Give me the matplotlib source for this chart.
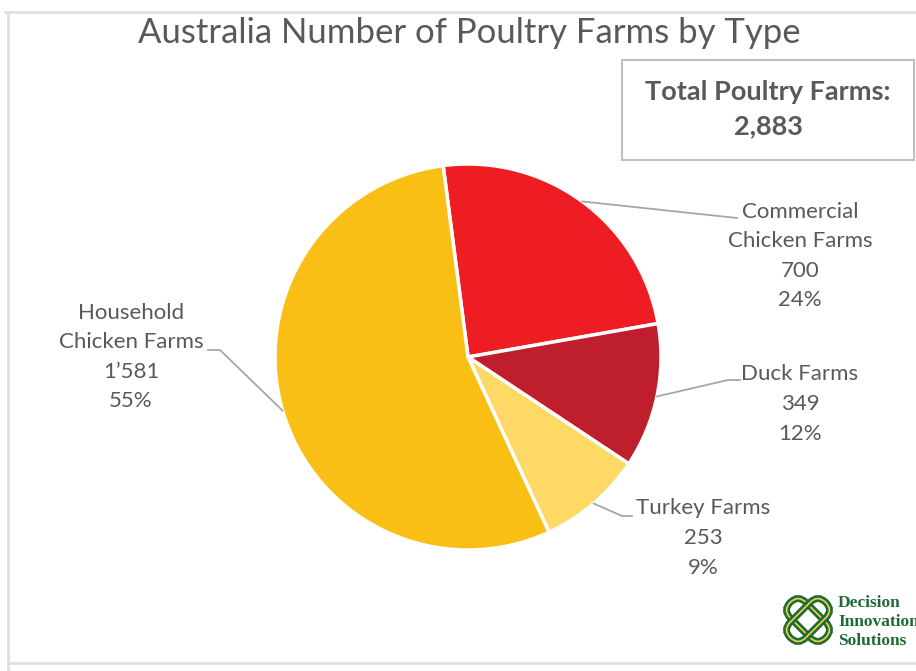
import numpy as np
import matplotlib
matplotlib.use("Agg")
import matplotlib.pyplot as plt
from matplotlib.patches import Rectangle, FancyBboxPatch
import matplotlib.transforms as mtransforms

# data
categories = ["Commercial\nChicken Farms", "Duck Farms", "Turkey Farms", "Household\nChicken Farms"]
farms = [700, 349, 253, 1581]
colours = ["#EE1D23", "#BF1E2D", "#FFD966", "#FABF14"]

# label layout (pixel coords of the figure, y downwards)
label_pos = [(800, 256), (800, 404), (703, 538), (131, 357)]
leader_pts = [
    [(737, 218)],
    [(728, 380), (740, 380)],
    [(622, 516), (632, 516)],
    [(220, 350), (208, 350)],
]

total = sum(farms)
txt_col = "#595959"

plt.rcParams['font.family'] = ['Lato', 'DejaVu Sans']

fig = plt.figure(figsize=(9.16, 6.71), dpi=100)
ax = fig.add_axes([0, 0, 1, 1])

# frame of the chart area
ax.plot([5, 916], [12, 12], color="#E0E0E0", lw=2)
ax.plot([8, 8], [12, 671], color="#E0E0E0", lw=2)
ax.plot([8, 916], [663, 663], color="#E0E0E0", lw=2)

cx, cy, r = 468, 357, 193
wedges, _ = ax.pie(farms, colors=colours, center=(cx, cy), radius=r,
                   startangle=262.6, counterclock=True,
                   wedgeprops=dict(edgecolor="white", linewidth=2.5),
                   frame=True)
ax.set_xlim(0, 916)
ax.set_ylim(671, 0)
ax.set_aspect("equal")
ax.axis("off")

for w, name, v, pos, pts in zip(wedges, categories, farms, label_pos, leader_pts):
    mid = np.deg2rad((w.theta1 + w.theta2) / 2)
    sx, sy = cx + r * np.cos(mid), cy + r * np.sin(mid)
    xs = [sx] + [p[0] for p in pts]
    ys = [sy] + [p[1] for p in pts]
    ax.plot(xs, ys, color="#A6A6A6", lw=1.3)
    pct = round(v / total * 100)
    val = f"{v:,}".replace(",", "\u2019")
    ax.text(pos[0], pos[1], f"{name}\n{val}\n{pct}%", ha="center", va="center",
            fontsize=16, color=txt_col, linespacing=1.6)

ax.text(469, 33, "Australia Number of Poultry Farms by Type", ha="center", va="center",
        fontsize=25, color=txt_col)

# total box
ax.add_patch(Rectangle((622, 60), 292, 100, facecolor="white", edgecolor="#BFBFBF", lw=1.5))
ax.text(768, 109, f"Total Poultry Farms:\n{total:,}", ha="center", va="center",
        fontsize=19.5, fontweight="bold", color=txt_col, linespacing=1.5)

# logo
lx, ly = 808, 620
for ang in (45, -45):
    tr = mtransforms.Affine2D().rotate_deg_around(lx, ly, ang) + ax.transData
    for col, lw in (("#1E6B35", 5), ("#F2D04B", 1.2)):
        p = FancyBboxPatch((lx - 25, ly - 11), 50, 22,
                           boxstyle="round,pad=0,rounding_size=11",
                           facecolor="none", edgecolor=col, lw=lw)
        p.set_transform(tr)
        ax.add_patch(p)
for i, word in enumerate(["Decision", "Innovation", "Solutions"]):
    ax.text(838, 603 + i * 19, word, ha="left", va="center", fontsize=12.5,
            fontweight="bold", color="#1E6B35", family=["Liberation Serif", "DejaVu Serif"])

fig.savefig("out.png", dpi=100)
